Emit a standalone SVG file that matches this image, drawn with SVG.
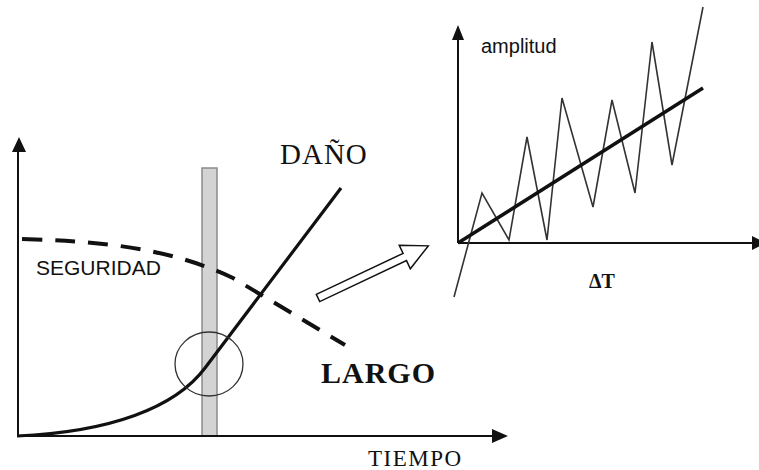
<svg xmlns="http://www.w3.org/2000/svg" width="759" height="470" viewBox="0 0 759 470">
<style>
.axis{stroke:#111;stroke-width:2;fill:none}
.head{fill:#111}
.sans{font-family:"Liberation Sans",Arial,sans-serif;fill:#111}
.serif{font-family:"Liberation Serif","Times New Roman",serif;fill:#111}
</style>
<rect width="759" height="470" fill="#fff"/>
<g id="left-chart">
  <rect id="bar" x="202" y="168" width="15" height="268" fill="#d3d3d3" stroke="#8a8a8a" stroke-width="1.5"/>
  <g id="axes">
    <line class="axis" x1="18" y1="437" x2="18" y2="148"/>
    <polygon class="head" points="19,137 12,152 26,152"/>
    <line class="axis" x1="17" y1="436" x2="496" y2="436"/>
    <polygon class="head" points="508,436 492,429 492,443"/>
  </g>
  <path id="seguridad-curve" d="M22,239 C100,241 170,248 233,278 L345,345" fill="none" stroke="#111" stroke-width="4" stroke-dasharray="20,13"/>
  <path id="dano-curve" d="M17,436 C110,432 175,408 205,368 L341,188" fill="none" stroke="#111" stroke-width="3.2"/>
  <ellipse id="circle" cx="209" cy="364" rx="34" ry="32" fill="none" stroke="#333" stroke-width="1.3"/>
  <text class="sans" x="36" y="275" font-size="21">SEGURIDAD</text>
  <text class="serif" x="280" y="164" font-size="29" letter-spacing="1">DAÑO</text>
  <text class="serif" x="321" y="383" font-size="30" font-weight="bold" letter-spacing="1">LARGO</text>
  <text class="serif" x="368" y="466" font-size="23" letter-spacing="1.5">TIEMPO</text>
</g>
<g id="arrow">
  <polygon transform="translate(318,298) rotate(-25.3)" points="0,-4 96,-4 96,-13 122,0 96,13 96,4 0,4" fill="#fff" stroke="#111" stroke-width="1.5" stroke-linejoin="miter"/>
</g>
<g id="right-chart">
  <g id="axes-right">
    <line class="axis" x1="458" y1="243" x2="458" y2="38"/>
    <polygon class="head" points="458,25 452,40 464,40"/>
    <line class="axis" x1="458" y1="243" x2="755" y2="243" stroke-width="2.5"/>
    <polygon class="head" points="766,243 752,236 752,250"/>
  </g>
  <polyline id="zigzag" points="454,297 482,193 509,240 527,137 547,240 562,98 593,207 612,100 635,193 652,42 672,165 703,7" fill="none" stroke="#333" stroke-width="1.6" stroke-linejoin="miter"/>
  <line id="trend" x1="458" y1="243" x2="703" y2="88" stroke="#111" stroke-width="3.5"/>
  <text class="sans" x="481" y="53" font-size="20">amplitud</text>
  <text class="serif" x="589" y="288" font-size="20" font-weight="bold">ΔT</text>
</g>
</svg>
